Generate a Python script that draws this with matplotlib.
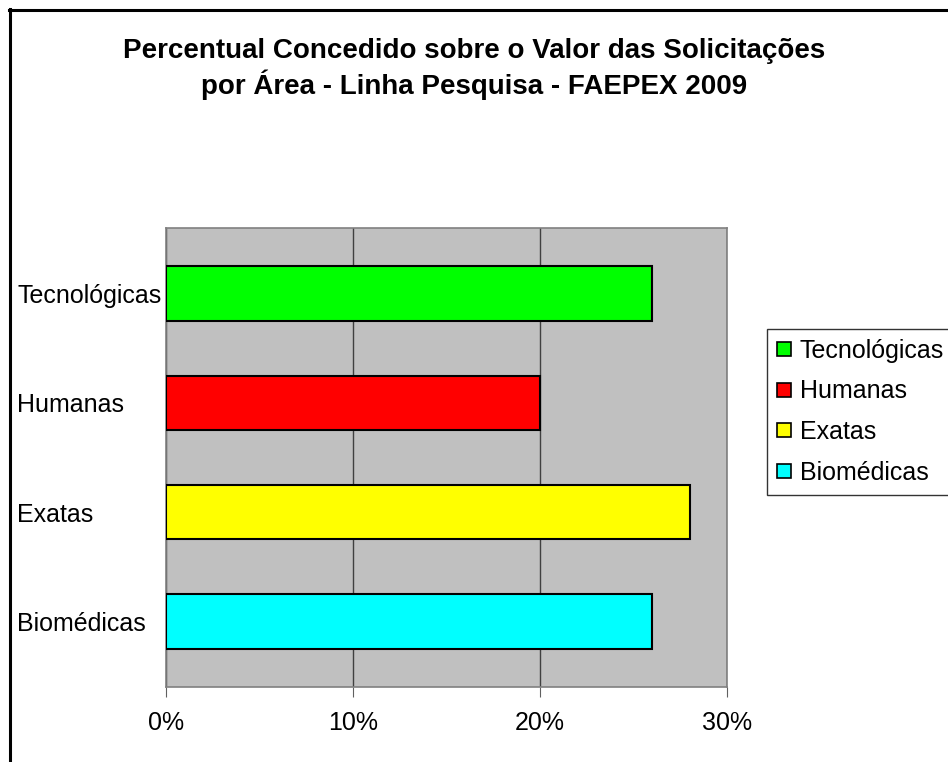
import matplotlib
matplotlib.use('Agg')
from matplotlib import pyplot as plt
from matplotlib.patches import Patch
from matplotlib.lines import Line2D
from matplotlib.ticker import FuncFormatter

plt.rcParams['font.family'] = ['Liberation Sans', 'DejaVu Sans']

# data, top to bottom as shown in the chart
areas = ['Tecnológicas', 'Humanas', 'Exatas', 'Biomédicas']
percent = [26, 20, 28, 26]
colors = ['#00FF00', '#FF0000', '#FFFF00', '#00FFFF']
xticks = [0, 10, 20, 30]
title = 'Percentual Concedido sobre o Valor das Solicitações\npor Área - Linha Pesquisa - FAEPEX 2009'

fig = plt.figure(figsize=(9.48, 7.62), dpi=100)
ax = fig.add_axes([166 / 948, 1 - 687 / 762, (727 - 166) / 948, (687 - 228) / 762])
ax.set_facecolor('#C0C0C0')

ypos = list(range(len(areas)))
ax.barh(ypos, percent, height=0.5, color=colors, edgecolor='black', linewidth=1.5, zorder=3)
ax.set_ylim(len(areas) - 0.4, -0.6)
ax.set_xlim(0, 30)

ax.set_xticks(xticks)
ax.xaxis.set_major_formatter(FuncFormatter(lambda v, p: '%d%%' % v))
ax.grid(axis='x', color='#404040', linewidth=1, zorder=1)
ax.tick_params(axis='x', direction='out', length=7, color='#606060', labelsize=18, pad=10)

ax.set_yticks(ypos)
ax.set_yticklabels(areas)
ax.tick_params(axis='y', length=0, labelsize=18, pad=(166 - 17) * 0.72)
for lbl in ax.get_yticklabels():
    lbl.set_horizontalalignment('left')

for side in ['left', 'right', 'top', 'bottom']:
    ax.spines[side].set_color('#808080')
    ax.spines[side].set_linewidth(1.2)

fig.text(0.5, 1 - 69 / 762, title, ha='center', va='center', fontsize=20,
         fontweight='bold', linespacing=1.25)

handles = [Patch(facecolor=c, edgecolor='black', linewidth=1.2) for c in colors]
leg = fig.legend(handles, areas, loc='upper left', bbox_to_anchor=(767 / 948, 1 - 329 / 762),
                 fontsize=18, frameon=True, fancybox=False, edgecolor='black',
                 handlelength=0.56, handleheight=0.48, handletextpad=0.36,
                 labelspacing=0.66, borderpad=0.4, borderaxespad=0)
leg.get_frame().set_linewidth(1.0)

# outer chart border (only top and left are visible in the image)
fig.add_artist(Line2D([9 / 948, 1.0], [1 - 9.5 / 762, 1 - 9.5 / 762], color='black', linewidth=2.2))
fig.add_artist(Line2D([9.5 / 948, 9.5 / 948], [0.0, 1 - 9 / 762], color='black', linewidth=2.2))

fig.savefig('out.png', dpi=100)
